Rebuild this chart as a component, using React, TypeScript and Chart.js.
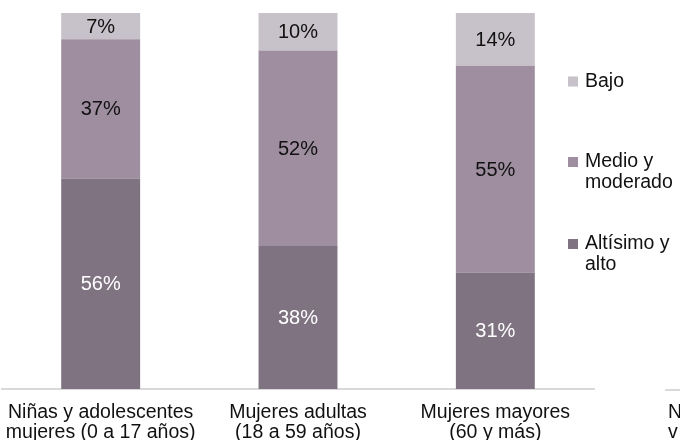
import React, { useEffect, useRef } from "react";
import { Chart, registerables } from "chart.js";

Chart.register(...registerables);

const categories: string[][] = [
  ["Niñas y adolescentes", "mujeres (0 a 17 años)"],
  ["Mujeres adultas", "(18 a 59 años)"],
  ["Mujeres mayores", "(60 y más)"],
];
const altoValues = [56, 38, 31];
const medioValues = [37, 52, 55];
const bajoValues = [7, 10, 14];

const seriesNames = ["Altísimo y alto", "Medio y moderado", "Bajo"];
const legendLines: string[][] = [["Bajo"], ["Medio y", "moderado"], ["Altísimo y", "alto"]];
const colors = ["#7f7382", "#9e8e9f", "#c7c2c9"];
const legendColors = ["#c7c2c9", "#9e8e9f", "#7f7382"];
const labelColors = ["#ffffff", "#111111", "#111111"];

const FONT = "'Liberation Sans', Arial, sans-serif";

const valueLabels = {
  id: "valueLabels",
  afterDatasetsDraw(chart: any) {
    const ctx = chart.ctx;
    ctx.save();
    ctx.font = `20px ${FONT}`;
    ctx.textAlign = "center";
    ctx.textBaseline = "middle";
    chart.data.datasets.forEach((ds: any, di: number) => {
      const meta = chart.getDatasetMeta(di);
      meta.data.forEach((el: any, i: number) => {
        const { x, y, base } = el.getProps(["x", "y", "base"], true);
        ctx.fillStyle = labelColors[di];
        ctx.fillText(ds.data[i] + "%", x, (y + base) / 2 + 1);
      });
    });
    ctx.restore();
  },
};

const categoryLabels = {
  id: "categoryLabels",
  afterDraw(chart: any) {
    const ctx = chart.ctx;
    const xs = chart.scales.x;
    const bottom = chart.chartArea.bottom;
    ctx.save();
    ctx.font = `19.5px ${FONT}`;
    ctx.textAlign = "center";
    ctx.textBaseline = "middle";
    ctx.fillStyle = "#111111";
    categories.forEach((lines, i) => {
      const x = xs.getPixelForTick(i);
      lines.forEach((t, li) => {
        ctx.fillText(t, x, bottom + 24 + li * 19.5);
      });
    });
    ctx.restore();
  },
};

const sideLegend = {
  id: "sideLegend",
  afterDraw(chart: any) {
    const ctx = chart.ctx;
    const ca = chart.chartArea;
    const boxX = ca.right - 26;
    const centers = [81.5, 162, 244];
    ctx.save();
    ctx.font = `19.5px ${FONT}`;
    ctx.textBaseline = "middle";
    ctx.textAlign = "left";
    legendLines.forEach((lines, i) => {
      ctx.fillStyle = legendColors[i];
      ctx.fillRect(boxX, centers[i] - 5, 10, 10);
      ctx.fillStyle = "#111111";
      lines.forEach((t, li) => {
        ctx.fillText(t, boxX + 17, centers[i] + li * 21);
      });
    });
    // fragment of neighbouring chart at the right edge
    ctx.strokeStyle = "#d9d9d9";
    ctx.lineWidth = 2;
    ctx.beginPath();
    ctx.moveTo(665, ca.bottom + 1);
    ctx.lineTo(chart.width, ca.bottom + 1);
    ctx.stroke();
    ctx.fillStyle = "#111111";
    ctx.fillText("N", 668, ca.bottom + 24);
    ctx.fillText("v", 668, ca.bottom + 43.5);
    ctx.restore();
  },
};

export default function App() {
  const ref = useRef<HTMLCanvasElement>(null);
  useEffect(() => {
    document.body.style.margin = "0";
    const chart = new Chart(ref.current!, {
      type: "bar",
      data: {
        labels: categories,
        datasets: [
          { label: seriesNames[0], data: altoValues, backgroundColor: colors[0] },
          { label: seriesNames[1], data: medioValues, backgroundColor: colors[1] },
          { label: seriesNames[2], data: bajoValues, backgroundColor: colors[2] },
        ],
      },
      options: {
        responsive: false,
        animation: false,
        layout: { padding: { top: 13, left: 2, right: 86, bottom: 0 } },
        datasets: { bar: { categoryPercentage: 1, barPercentage: 0.4 } },
        plugins: { legend: { display: false }, tooltip: { enabled: false } },
        scales: {
          x: {
            stacked: true,
            grid: { display: false },
            border: { display: true, color: "#d9d9d9", width: 2 },
            ticks: { display: false },
            afterFit(scale: any) {
              scale.height = 51;
            },
          },
          y: { stacked: true, display: false, min: 0, max: 100 },
        },
      },
      plugins: [valueLabels, categoryLabels, sideLegend],
    } as any);
    return () => chart.destroy();
  }, []);
  return (
    <div style={{ width: 680, height: 440 }}>
      <canvas ref={ref} width={680} height={440} />
    </div>
  );
}
